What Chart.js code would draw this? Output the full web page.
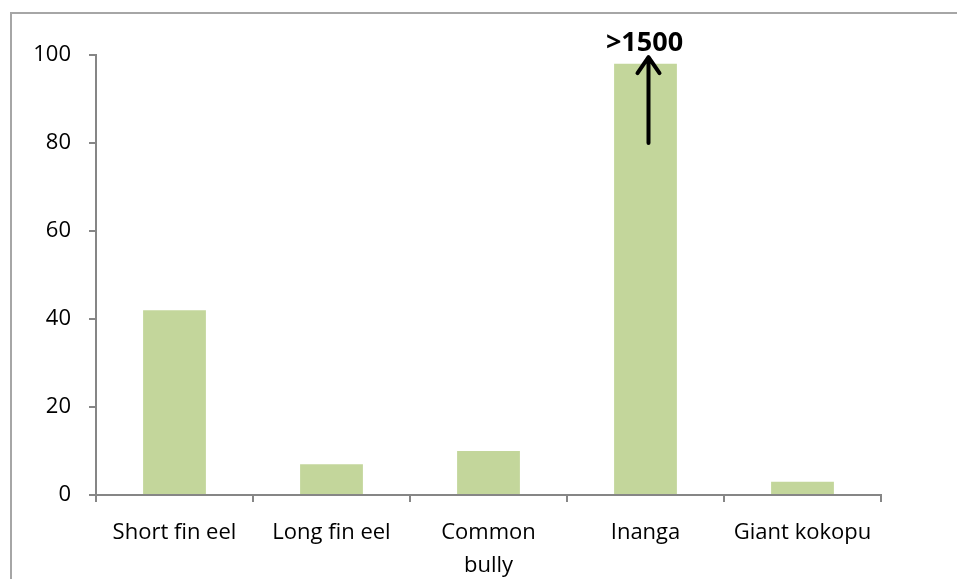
<!DOCTYPE html>
<html lang="en">
<head>
    <meta charset="UTF-8">
    <title>Fish counts</title>
    <script src="https://cdn.jsdelivr.net/npm/chart.js"></script>
    <style>
        body { margin: 0; overflow: hidden; background: #fff; }
        #wrap { position: relative; width: 957px; height: 579px; }
        #frame { position: absolute; left: 10px; top: 12px; width: 1000px; height: 700px; border: 2px solid #a6a6a6; box-sizing: border-box; }
        canvas { position: absolute; left: 0; top: 0; }
    </style>
</head>
<body>
<div id="wrap">
    <div id="frame"></div>
    <canvas id="fishChart" width="957" height="579"></canvas>
</div>
<script>
    const species = ['Short fin eel', 'Long fin eel', ['Common', 'bully'], 'Inanga', 'Giant kokopu'];
    const counts = [42, 7, 10, 98, 3];
    const yTicks = [0, 20, 40, 60, 80, 100];

    // note + arrow over the Inanga bar (true value off the scale)
    const noteIndex = 3;
    const noteText = '>1500';
    const arrowFrom = 80;
    const arrowTo = 99.5;

    const axisGrey = '#868686';
    const labelFont = { family: '"Open Sans", Lato, sans-serif', size: 22 };

    const offScaleNote = {
        id: 'offScaleNote',
        afterDatasetsDraw(chart) {
            const ctx = chart.ctx;
            const x = chart.scales.x.getPixelForValue(noteIndex) + 3;
            const y0 = chart.scales.y.getPixelForValue(arrowFrom);
            const y1 = chart.scales.y.getPixelForValue(arrowTo);
            ctx.save();
            ctx.strokeStyle = '#000';
            ctx.lineWidth = 4;
            ctx.lineCap = 'round';
            ctx.lineJoin = 'round';
            ctx.beginPath();
            ctx.moveTo(x, y0);
            ctx.lineTo(x, y1);
            ctx.moveTo(x - 11, y1 + 16);
            ctx.lineTo(x, y1);
            ctx.lineTo(x + 11, y1 + 16);
            ctx.stroke();
            ctx.fillStyle = '#000';
            ctx.font = 'bold 27px "Open Sans", Lato, sans-serif';
            ctx.textAlign = 'center';
            ctx.textBaseline = 'middle';
            ctx.fillText(noteText, x - 4, y1 - 14);
            ctx.restore();
        }
    };

    new Chart(document.getElementById('fishChart'), {
        type: 'bar',
        data: {
            labels: species,
            datasets: [{
                data: counts,
                backgroundColor: '#c3d69b',
                barPercentage: 0.8,
                categoryPercentage: 0.5
            }]
        },
        options: {
            responsive: false,
            animation: false,
            layout: { padding: { left: 0, top: 55, right: 76, bottom: 0 } },
            plugins: { legend: { display: false }, tooltip: { enabled: false } },
            scales: {
                x: {
                    grid: { offset: true, drawOnChartArea: false, color: axisGrey, tickLength: 7, lineWidth: 2 },
                    border: { color: axisGrey, width: 2 },
                    ticks: { color: '#000', font: { ...labelFont, lineHeight: 1.5 }, padding: 14, maxRotation: 0, autoSkip: false },
                    afterFit(scale) { scale.height = 84; }
                },
                y: {
                    min: 0,
                    max: 100,
                    afterBuildTicks(scale) { scale.ticks = yTicks.map(v => ({ value: v })); },
                    grid: { drawOnChartArea: false, color: axisGrey, tickLength: 7, lineWidth: 2 },
                    border: { color: axisGrey, width: 2 },
                    ticks: { color: '#000', font: labelFont, padding: 18 },
                    afterFit(scale) { scale.width = 96; }
                }
            }
        },
        plugins: [offScaleNote]
    });
</script>
</body>
</html>
